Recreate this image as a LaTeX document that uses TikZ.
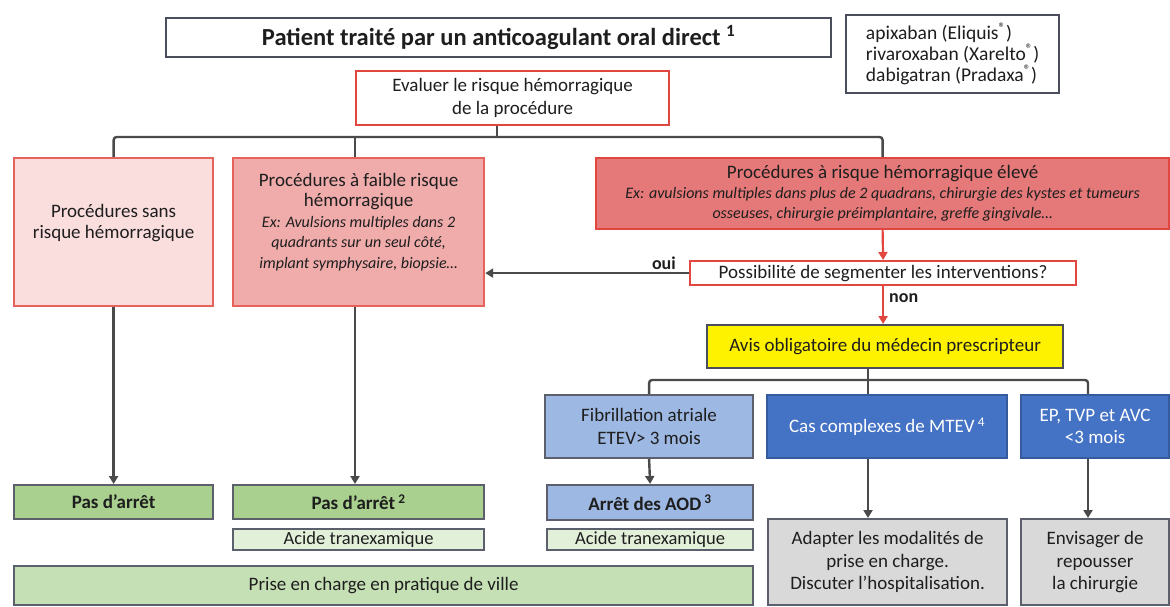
\documentclass[tikz,border=0pt]{standalone}
\usepackage{fontspec}
\setmainfont{Carlito}
\usetikzlibrary{arrows.meta}

\definecolor{frameGrey}{HTML}{4A4E5C}
\definecolor{redLine}{HTML}{E2473F}
\definecolor{pinkA}{HTML}{FADDDD}
\definecolor{pinkB}{HTML}{F0ABAB}
\definecolor{pinkC}{HTML}{E57878}
\definecolor{greenDark}{HTML}{A9D08E}
\definecolor{greenLight}{HTML}{E2EFD9}
\definecolor{greenMid}{HTML}{C5E0B4}
\definecolor{blueLight}{HTML}{9DB8E2}
\definecolor{blueDark}{HTML}{4472C4}
\definecolor{greyFill}{HTML}{D9D9D9}
\definecolor{connGrey}{HTML}{4A4A4A}
\definecolor{txt}{HTML}{1E1E1E}

% box spanning pixel corners (x1,y1)-(x2,y2)
\newcommand\boxat[6]{\node[#2, anchor=north west,
  minimum width={(#5-#3)*1pt}, minimum height={(#6-#4)*1pt}] (#1) at (#3,#4)}
% small italic font for the examples
\newcommand\exfont{\fontsize{16}{20.5}\selectfont\itshape}

\tikzset{
  base/.style={draw, line width=2.2pt, inner sep=1pt, align=center, text=txt,
    font=\fontsize{19}{22.5}\selectfont},
  plain/.style={base, draw=frameGrey, fill=white},
  redbox/.style={base, draw=redLine, fill=white},
  riskA/.style={base, draw=redLine!85, fill=pinkA},
  riskB/.style={base, draw=redLine!85, fill=pinkB},
  riskC/.style={base, draw=redLine, fill=pinkC},
  okbox/.style={base, draw=frameGrey!90, fill=greenDark, font=\fontsize{19}{22}\selectfont\bfseries},
  acide/.style={base, draw=frameGrey!90, fill=greenLight, font=\fontsize{18.5}{20}\selectfont},
  ville/.style={base, draw=frameGrey!90, fill=greenMid},
  bluesoft/.style={base, draw=frameGrey!90, fill=blueLight},
  bluestrong/.style={base, draw=blueDark!80!black, fill=blueDark, text=white},
  greybox/.style={base, draw=frameGrey!90, fill=greyFill},
  yelbox/.style={base, draw=frameGrey, fill=yellow},
  conn/.style={draw=connGrey, line width=2.4pt},
  redconn/.style={draw=redLine, line width=2.2pt},
  tip/.style={-{Triangle[length=8pt,width=9pt]}},
  lbl/.style={font=\fontsize{18}{20}\selectfont\bfseries, text=txt, inner sep=0pt}
}

\begin{document}
\begin{tikzpicture}[x=1pt, y=-1pt]
\useasboundingbox (0,0) rectangle (1170,606);

% top row
\boxat{title}{plain}{165}{17}{830}{56}
  {\fontsize{24.5}{26}\selectfont\bfseries Patient traité par un anticoagulant oral direct \textsuperscript{1}};
\boxat{drugs}{plain}{845}{14}{1058}{92}
  [align=left, font=\fontsize{19.5}{21}\selectfont]
  {apixaban (Eliquis\textsuperscript{®})\\rivaroxaban (Xarelto\textsuperscript{®})\\dabigatran (Pradaxa\textsuperscript{®})};
\boxat{eval}{redbox}{355}{70}{668}{124}
  {Evaluer le risque hémorragique\\de la procédure};

% bleeding-risk categories
\boxat{none}{riskA}{13}{157}{212}{305}
  [font=\fontsize{19}{21}\selectfont]
  {Procédures sans\\risque hémorragique\\[0pt]};
\boxat{low}{riskB}{232}{157}{483}{305}
  [font=\fontsize{19}{20.5}\selectfont]
  {Procédures à faible risque\\hémorragique\\
   {\exfont Ex: Avulsions multiples dans 2}\\
   {\exfont quadrants sur un seul côté,}\\
   {\exfont implant symphysaire, biopsie…}\\[2pt]};
\boxat{high}{riskC}{595}{157}{1168}{228}
  [font=\fontsize{19}{20}\selectfont]
  {Procédures à risque hémorragique élevé\\
   {\exfont Ex: avulsions multiples dans plus de 2 quadrans, chirurgie des kystes et tumeurs}\\
   {\exfont osseuses, chirurgie préimplantaire, greffe gingivale…}};

\boxat{seg}{redbox}{689}{260}{1075}{284}
  {Possibilité de segmenter les interventions?};
\boxat{avis}{yelbox}{706}{324}{1062}{367}
  {Avis obligatoire du médecin prescripteur};

% indications
\boxat{fib}{bluesoft}{544}{394}{752}{457}
  {Fibrillation atriale\\ETEV> 3 mois};
\boxat{cas}{bluestrong}{766}{394}{1006}{457}
  {Cas complexes de MTEV\,\textsuperscript{4}};
\boxat{ep}{bluestrong}{1020}{394}{1168}{457}
  {EP, TVP et AVC\\<3 mois};

% outcomes
\boxat{pas1}{okbox}{13}{484}{212}{518}{Pas d’arrêt};
\boxat{pas2}{okbox}{232}{484}{483}{518}{Pas d’arrêt\,\textsuperscript{2}};
\boxat{arret}{bluesoft}{546}{484}{752}{519}
  [font=\fontsize{19}{22}\selectfont\bfseries]{Arrêt des AOD\,\textsuperscript{3}};
\boxat{acA}{acide}{232}{528}{483}{549}{Acide tranexamique};
\boxat{acB}{acide}{546}{528}{752}{549}{Acide tranexamique};
\boxat{ville}{ville}{13}{565}{752}{604}{Prise en charge en pratique de ville};
\boxat{adapt}{greybox}{767}{518}{1006}{604}
  {Adapter les modalités de\\prise en charge.\\Discuter l’hospitalisation.};
\boxat{envis}{greybox}{1020}{518}{1168}{604}
  {Envisager de\\repousser\\la chirurgie};

% branch points
\coordinate (busA) at (497,137);
\coordinate (busB) at (868,380);
\coordinate (casX) at (868,0);
\coordinate (epX) at (1088,0);
\coordinate (lowX) at (355,0);

% first level split
\draw[conn] (eval.south -| busA) -- (busA);
\draw[conn, rounded corners=3pt] (none.north) |- (busA) -| (high.north);
\draw[conn] (busA -| lowX) -- (low.north -| lowX);

% high risk path
\draw[redconn, tip] (high.south) -- (seg.north);
\draw[conn, tip] (seg.west) -- (seg.west -| low.east);
\node[lbl, anchor=south east] (oui) at (676,270) {oui};
\draw[redconn, tip] (seg.south) -- (seg.south |- avis.north);
\node[lbl, anchor=west] (non) at (889,298) {non};

% second level split
\draw[conn] (avis.south -| busB) -- (busB);
\draw[conn, rounded corners=3pt] (fib.north) |- (busB) -| (ep.north -| epX);
\draw[conn] (busB) -- (cas.north -| busB);

% vertical arrows to outcomes
\draw[conn, tip] (none.south) -- (pas1.north);
\draw[conn, tip] (low.south -| lowX) -- (pas2.north -| lowX);
\draw[conn, tip] (fib.south) -- (arret.north);
\draw[conn, tip] (cas.south -| casX) -- (adapt.north -| casX);
\draw[conn, tip] (ep.south -| epX) -- (envis.north -| epX);
\end{tikzpicture}
\end{document}
